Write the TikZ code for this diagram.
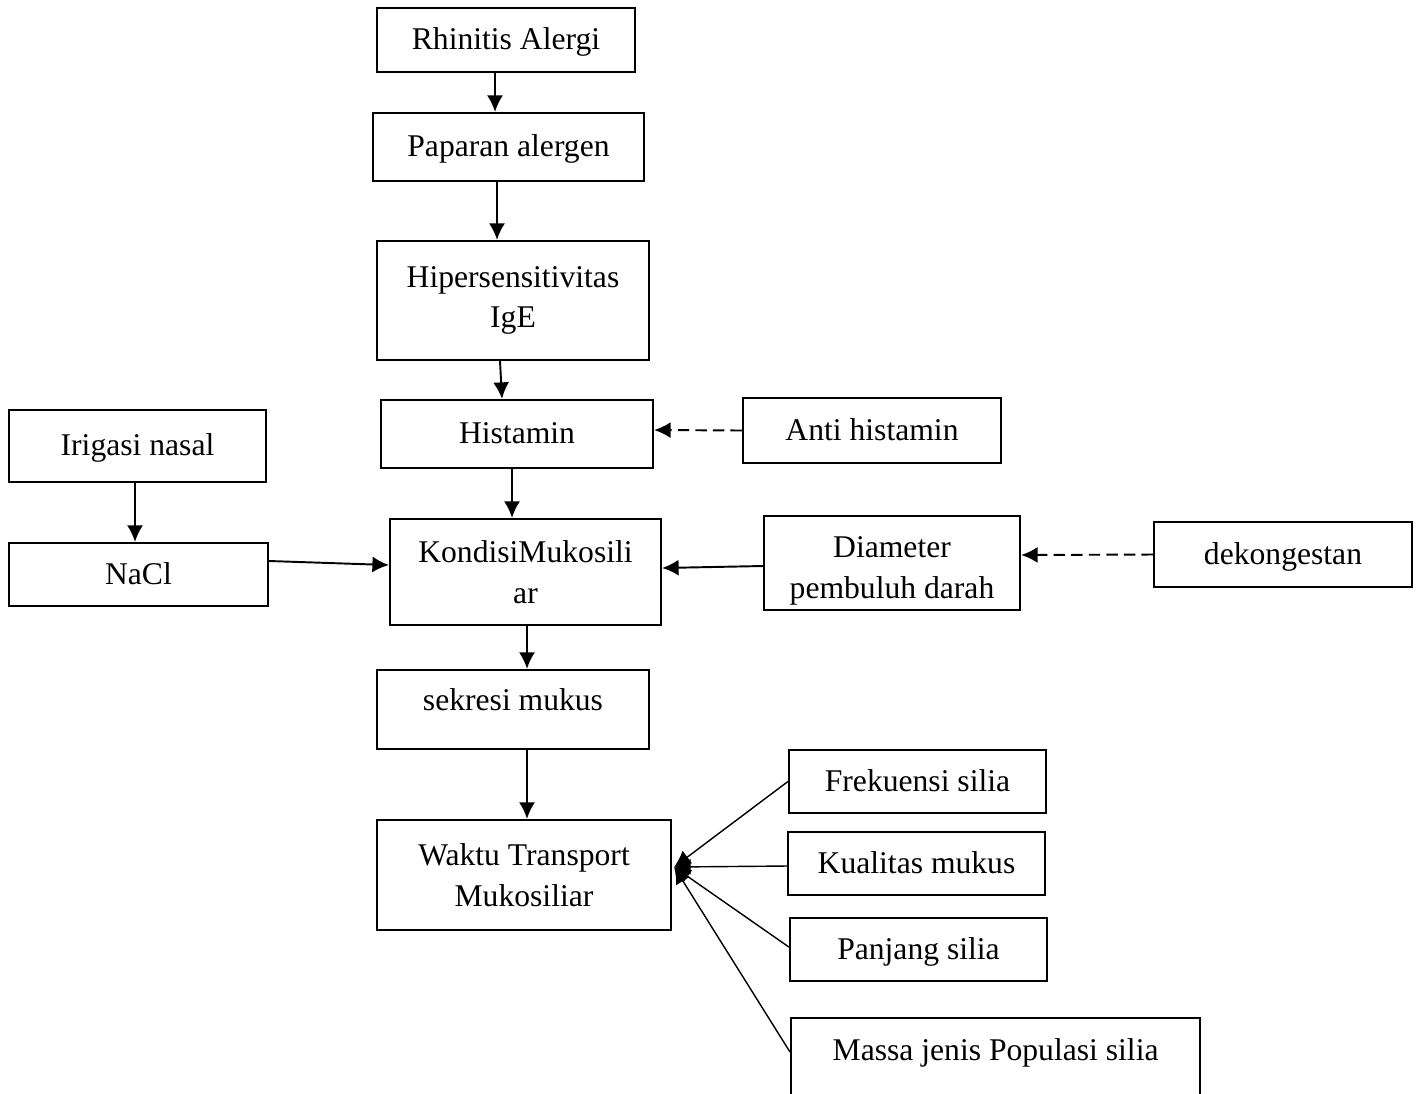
\documentclass[tikz,border=0pt]{standalone}
\usepackage{fontspec}
\setmainfont{Liberation Serif}
\usetikzlibrary{arrows.meta}
\tikzset{every node/.style={align=center}, >={Latex[length=3.3mm,width=3.2mm]}, font=\fontsize{18}{23}\selectfont}

\begin{document}
\begin{tikzpicture}[x=0.02cm, y=-0.02cm,
    box/.style={draw, rectangle, line width=1.3pt, inner sep=0pt},
    line/.style={text height=13pt, text depth=2pt},
    dashline/.style={dash pattern=on 6.5pt off 3.5pt}]
  \clip (0,0) rectangle (1422,1093);

  % main chain
  \node [box, line, minimum width=5.16cm, minimum height=1.28cm] (rhinitis) at (506,40) {Rhinitis Alergi};
  \node [box, line, minimum width=5.42cm, minimum height=1.36cm] (paparan) at (508.5,147) {Paparan alergen};
  \node [box, minimum width=5.44cm, minimum height=2.38cm] (hiper) at (513,300.5) {Hipersensitivitas\\IgE};
  \node [box, line, minimum width=5.44cm, minimum height=1.36cm] (histamin) at (517,434) {Histamin};
  \node [box, minimum width=5.42cm, minimum height=2.12cm] (kondisi) at (525.5,572) {KondisiMukosili\\ar};
  \node [box, line, text depth=11.5pt, minimum width=5.44cm, minimum height=1.58cm] (sekresi) at (513,709.5) {sekresi mukus};
  \node [box, minimum width=5.88cm, minimum height=2.20cm] (waktu) at (524,875) {Waktu Transport\\Mukosiliar};

  % side boxes
  \node [box, line, minimum width=5.16cm, minimum height=1.30cm] (antihis) at (872,430.5) {Anti histamin};
  \node [box, line, minimum width=5.14cm, minimum height=1.44cm] (irigasi) at (137.5,446) {Irigasi nasal};
  \node [box, line, minimum width=5.18cm, minimum height=1.26cm] (nacl) at (138.5,574.5) {NaCl};
  \node [box, minimum width=5.12cm, minimum height=1.88cm] (diameter) at (892,563) {\rule{0pt}{21pt}Diameter\\pembuluh darah};
  \node [box, line, minimum width=5.16cm, minimum height=1.30cm] (dekong) at (1283,554.5) {dekongestan};

  % factors
  \node [box, line, minimum width=5.14cm, minimum height=1.26cm] (frek) at (917.5,781.5) {Frekuensi silia};
  \node [box, line, minimum width=5.14cm, minimum height=1.26cm] (kual) at (916.5,863.5) {Kualitas mukus};
  \node [box, line, minimum width=5.14cm, minimum height=1.26cm] (panj) at (918.5,949.5) {Panjang silia};
  \node [box, text height=24pt, text depth=30pt, minimum width=8.18cm, anchor=north west] (massa) at (790,1017) {Massa jenis Populasi silia};

  \coordinate (hub) at ([xshift=0.04cm,yshift=0.16cm]waktu.east);

  \path[->, line width=1.1pt]
    ([xshift=-0.22cm]rhinitis.south) edge ([xshift=-0.27cm]paparan.north)
    ([xshift=-0.23cm]paparan.south) edge ([xshift=-0.32cm]hiper.north)
    ([xshift=-0.26cm]hiper.south) edge ([xshift=-0.30cm]histamin.north)
    ([xshift=-0.10cm]histamin.south) edge ([xshift=-0.27cm]kondisi.north)
    ([xshift=-0.05cm]irigasi.south) edge ([xshift=-0.07cm]nacl.north)
    ([yshift=0.27cm]nacl.east) edge ([yshift=0.14cm]kondisi.west)
    ([yshift=-0.06cm]diameter.west) edge ([yshift=0.08cm]kondisi.east)
    ([xshift=0.03cm]kondisi.south) edge ([xshift=0.28cm]sekresi.north)
    ([xshift=0.28cm]sekresi.south) edge ([xshift=0.06cm]waktu.north);

  \path[->, line width=1.1pt, dashline]
    (antihis.west) edge ([yshift=0.08cm]histamin.east)
    (dekong.west) edge ([yshift=0.16cm]diameter.east);

  \path[->, line width=0.8pt]
    (frek.west) edge (hub)
    ([yshift=-0.05cm]kual.west) edge (hub)
    ([yshift=0.05cm]panj.west) edge (hub)
    ([yshift=-0.7cm]massa.north west) edge (hub);
\end{tikzpicture}
\end{document}
